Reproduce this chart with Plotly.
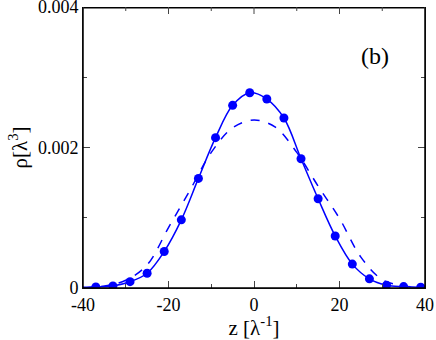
import plotly.graph_objects as go

# simulation points (filled circles)
z_sim = [-37, -33, -29, -25, -21, -17, -13, -9, -5, -1,
         3, 7, 11, 15, 19, 23, 27, 31, 35, 39]
rho_sim = [0.000014, 0.00003, 0.00009, 0.00021, 0.00052, 0.00097, 0.00156,
           0.00214, 0.00260, 0.00278, 0.00269, 0.00242, 0.00184, 0.00127,
           0.00074, 0.00034, 0.00013, 0.00004, 0.00002, 0.00001]

# solid curve (fit through the points)
z_fit = [-40] + z_sim + [40]
rho_fit = [0.0] + rho_sim + [0.0]

# dashed curve
z_dash = [-40, -35, -30, -25, -20, -15, -10, -5, 0, 5, 10, 15, 20, 25, 30, 35, 40]
rho_dash = [0.00001, 0.00003, 0.00011, 0.00033, 0.00086, 0.00139, 0.00193,
            0.00228, 0.00239, 0.00229, 0.00193, 0.00145, 0.00099, 0.00044,
            0.00012, 0.00003, 0.00001]

x_major = [-40, -20, 0, 20, 40]
x_minor = [-30, -10, 10, 30]

blue = "#0000ff"
font = "Liberation Serif, Times New Roman, serif"

fig = go.Figure()
fig.add_trace(go.Scatter(x=z_dash, y=rho_dash, mode="lines",
                         line=dict(color=blue, width=1.5, dash="dash", shape="spline")))
fig.add_trace(go.Scatter(x=z_fit, y=rho_fit, mode="lines",
                         line=dict(color=blue, width=1.5, shape="spline")))
fig.add_trace(go.Scatter(x=z_sim, y=rho_sim, mode="markers",
                         marker=dict(color=blue, size=9)))

axis_common = dict(showline=True, linecolor="#222", linewidth=1,
                   ticks="inside", ticklen=7, tickcolor="#444", showgrid=False,
                   zeroline=False, automargin=False, ticklabeloverflow="allow",
                   tickfont=dict(family=font, size=18, color="black"))

fig.update_xaxes(range=[-40.0001, 40.0001], tickvals=x_major,
                 ticktext=[str(v) for v in x_major], mirror=False,
                 minor=dict(ticks="inside", ticklen=4, tickvals=x_minor, tickcolor="#444"),
                 title=dict(text="z [λ<sup>-1</sup>]", font=dict(family=font, size=21, color="black"),
                            standoff=6),
                 **axis_common)
fig.update_yaxes(range=[0, 0.0040001], tickvals=[0, 0.002, 0.004],
                 ticktext=["0", "0.002", "0.004"], mirror="allticks",
                 minor=dict(ticks="inside", ticklen=4, dtick=0.001, tickcolor="#444"),
                 title=dict(text="ρ[λ<sup>3</sup>]", font=dict(family=font, size=21, color="black"),
                            standoff=4),
                 **axis_common)

# frame around the plot area, plus the top ticks (mirror of the x axis)
fig.add_shape(type="rect", xref="paper", yref="paper", x0=0, x1=1, y0=0, y1=0.997,
              line=dict(color="black", width=1.5), layer="above")
for v in x_major + x_minor:
    fig.add_shape(type="line", xref="x", yref="paper", ysizemode="pixel", yanchor=1,
                  x0=v, x1=v, y0=0, y1=-7 if v in x_major else -4,
                  line=dict(color="#444", width=1))

fig.add_annotation(x=0.90, y=0.88, xref="paper", yref="paper", text="(b)",
                   showarrow=False, font=dict(family=font, size=24, color="black"))

fig.update_layout(width=436, height=340, showlegend=False,
                  margin=dict(l=83, r=11, t=7, b=52),
                  plot_bgcolor="white", paper_bgcolor="white")

fig.write_html("out.html", config={"displayModeBar": False},
               post_script="document.body.style.margin='0';")
